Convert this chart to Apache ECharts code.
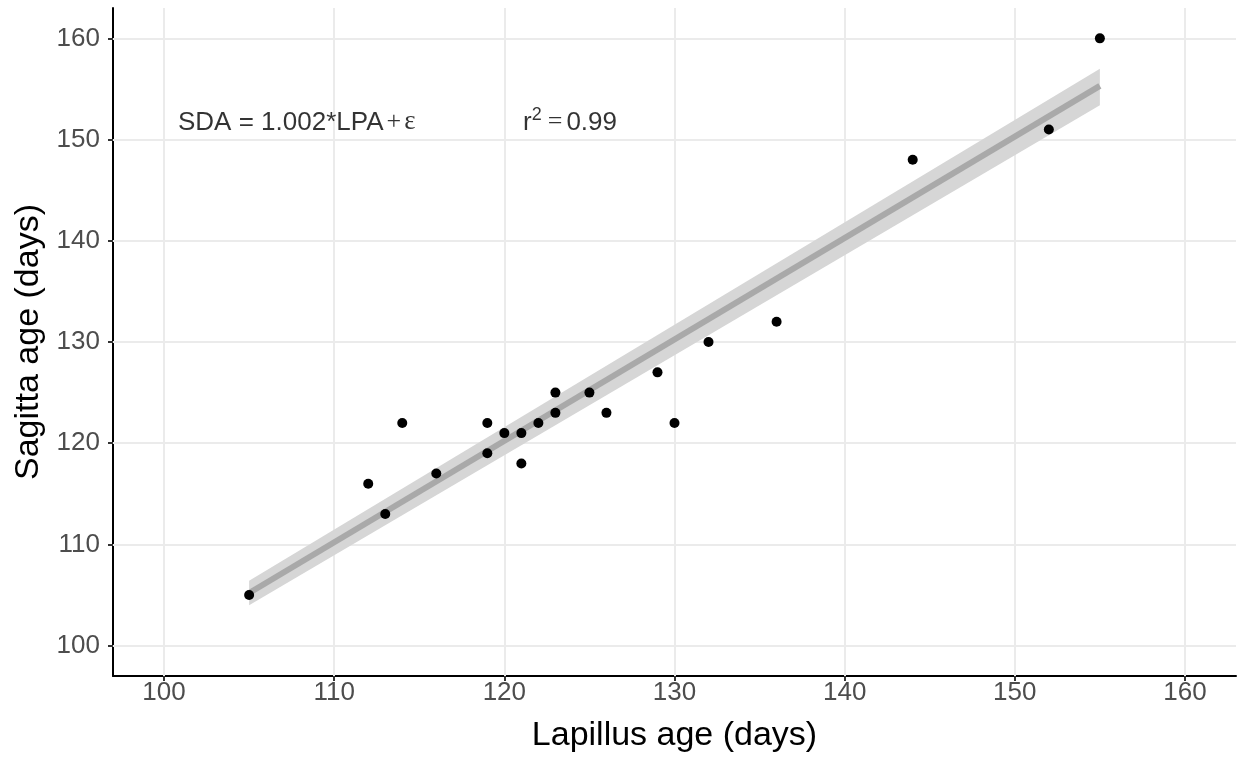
<!DOCTYPE html>
<html><head><meta charset="utf-8">
<script src="https://cdn.jsdelivr.net/npm/echarts@6/dist/echarts.min.js"></script>
<style>html,body{margin:0;padding:0;background:#fff}#c{width:1238px;height:761px}</style>
</head><body><div id="c"></div>
<script>
const lapillusAge = [105,112,113,114,116,119,119,120,121,121,122,123,123,125,126,129,130,132,136,144,152,155];
const sagittaAge  = [105,116,113,122,117,122,119,121,121,118,122,125,123,125,123,127,122,130,132,148,151,160];
const fitX = [105, 155];
const fitY = [105.2, 155.3];
const fitLower = [104.0, 153.4];
const fitUpper = [106.4, 157.0];
const xTicks = [100,110,120,130,140,150,160];
const yTicks = [100,110,120,130,140,150,160];
const xTitle = 'Lapillus age (days)';
const yTitle = 'Sagitta age (days)';
const eqAnchor = [100.82, 151.9];
const r2Anchor = [121.1, 151.9];

const FONT = '"Liberation Sans", Arial, sans-serif';
const SERIF = '"Liberation Serif", "DejaVu Serif", serif';

const chart = echarts.init(document.getElementById('c'), null, {renderer: 'canvas'});

function axisCommon(ticks, margin) {
  return {
    type: 'value',
    min: 97, max: 163,
    axisLine: {show: true, onZero: false, lineStyle: {color: '#000', width: 2}},
    axisTick: {show: true, length: 5, lineStyle: {color: '#333', width: 2}, customValues: ticks},
    axisLabel: {customValues: ticks, fontSize: 26, color: '#4d4d4d', margin: margin, fontFamily: FONT},
    splitLine: {show: false},
    nameLocation: 'middle',
    nameTextStyle: {fontSize: 34, color: '#000', fontFamily: FONT}
  };
}

const xAxis = Object.assign(axisCommon(xTicks, 4), {name: xTitle, nameGap: 43});
const yAxis = Object.assign(axisCommon(yTicks, 13), {name: yTitle, nameGap: 64});

const bandData = fitX.map((x, i) => [x, fitLower[i], fitUpper[i]]);

const richBase = {fontFamily: FONT, fontSize: 26, color: '#000', lineHeight: 30, verticalAlign: 'bottom'};

chart.setOption({
  animation: false,
  backgroundColor: '#fff',
  grid: {left: 113, right: 2, top: 8, bottom: 85, containLabel: false, outerBoundsMode: 'none'},
  xAxis: xAxis,
  yAxis: yAxis,
  series: [
    {
      type: 'scatter', data: [], z: 1, zlevel: 0, silent: true,
      markLine: {
        silent: true, symbol: ['none', 'none'], animation: false,
        label: {show: false},
        lineStyle: {color: '#ebebeb', width: 2, type: 'solid'},
        emphasis: {disabled: true},
        data: xTicks.map(v => ({xAxis: v})).concat(yTicks.map(v => ({yAxis: v})))
      }
    },
    {
      type: 'custom', z: 2, zlevel: 1, silent: true,
      data: bandData,
      encode: {x: 0, y: [1, 2]},
      renderItem: function (params, api) {
        if (params.dataIndex !== 0) return {type: 'group', children: []};
        const pts = [];
        bandData.forEach(d => pts.push(api.coord([d[0], d[2]])));
        for (let i = bandData.length - 1; i >= 0; i--) pts.push(api.coord([bandData[i][0], bandData[i][1]]));
        return {type: 'polygon', shape: {points: pts}, style: {fill: '#d6d6d6'}};
      }
    },
    {
      type: 'line', z: 3, zlevel: 1, silent: true, symbol: 'none',
      data: fitX.map((x, i) => [x, fitY[i]]),
      lineStyle: {color: '#a9a9a9', width: 6, cap: 'butt'}
    },
    {
      type: 'scatter', z: 4, zlevel: 1, silent: true,
      symbolSize: 10,
      itemStyle: {color: '#000', opacity: 1},
      data: lapillusAge.map((x, i) => [x, sagittaAge[i]])
    },
    {
      type: 'scatter', z: 5, zlevel: 1, silent: true, symbolSize: 0,
      data: [eqAnchor],
      label: {
        show: true, position: 'right', distance: 0,
        formatter: '{a|SDA = 1.002*LPA}{p|+}{e|ε}',
        rich: {
          a: Object.assign({}, richBase),
          p: Object.assign({}, richBase, {fontFamily: SERIF, fontSize: 26, padding: [0, 3, 0, 3]}),
          e: Object.assign({}, richBase, {fontFamily: SERIF, fontSize: 27})
        }
      }
    },
    {
      type: 'scatter', z: 5, zlevel: 1, silent: true, symbolSize: 0,
      data: [r2Anchor],
      label: {
        show: true, position: 'right', distance: 0,
        formatter: '{r|r}{s|2}{q|=}{n|0.99}',
        rich: {
          r: Object.assign({}, richBase),
          s: Object.assign({}, richBase, {fontSize: 18, padding: [0, 0, 11, 0]}),
          q: Object.assign({}, richBase, {fontFamily: SERIF, fontSize: 26, padding: [0, 4, 0, 6]}),
          n: Object.assign({}, richBase)
        }
      }
    }
  ]
});
</script>
</body></html>
